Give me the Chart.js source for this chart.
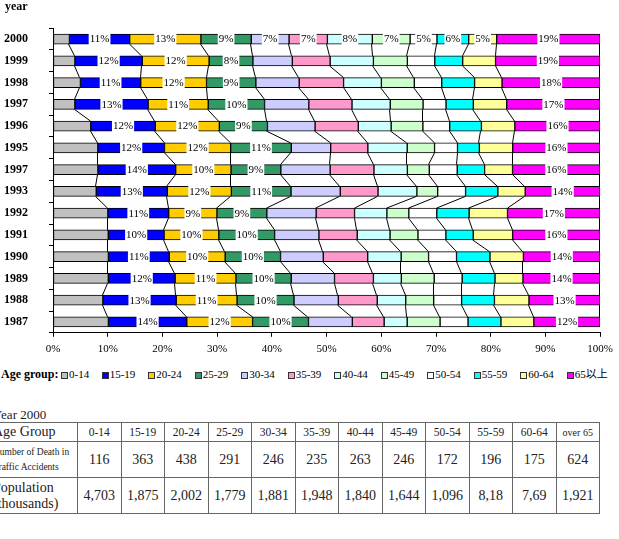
<!DOCTYPE html>
<html>
<head>
<meta charset="utf-8">
<script src="https://cdn.jsdelivr.net/npm/chart.js@4.4.1/dist/chart.umd.min.js"></script>
<style>
html,body{margin:0;padding:0;background:#fff;}
body{width:619px;height:539px;position:relative;overflow:hidden;font-family:"Liberation Serif","Times New Roman",serif;color:#000;}
#wrap{position:absolute;left:0;top:0;width:619px;height:361px;}
#yearTitle{position:absolute;left:5px;top:0px;font-weight:bold;font-size:12px;line-height:13px;}
#legend{position:absolute;left:0;top:366px;width:619px;height:16px;}
#legend .ttl{position:absolute;left:1px;top:0;font-weight:bold;font-size:12px;line-height:16px;white-space:nowrap;}
#legend .mk{position:absolute;top:6px;width:5px;height:5px;border:1px solid #333;}
#legend .lb{position:absolute;top:0;font-size:11px;line-height:16px;white-space:nowrap;font-family:"Liberation Serif","Noto Sans CJK JP",serif;}
#tblTitle{position:absolute;left:-7px;top:407px;font-size:13px;line-height:15px;color:#222;}
#tbl{position:absolute;left:-11px;top:422px;border-collapse:collapse;table-layout:fixed;}
#tbl td{border:1px solid #666;text-align:center;padding:0;font-size:14px;color:#222;overflow:hidden;white-space:nowrap;}
#tbl tr.h td{height:18px;font-size:11.5px;}
#tbl tr.d td{height:35px;}
#tbl td.first{text-align:left;padding-left:3px;}
#tbl td.small{font-size:9.5px;line-height:15px;white-space:normal;}
#tbl td.big{font-size:14px;line-height:16px;white-space:normal;}
</style>
</head>
<body>
<div id="wrap"><canvas id="c" width="619" height="361"></canvas></div>
<div id="yearTitle">year</div>
<div id="legend"></div>
<div id="tblTitle">Year 2000</div>
<table id="tbl"></table>
<script>
// ---------- DATA ----------
const years = ['2000','1999','1998','1997','1996','1995','1997','1993','1992','1991','1990','1989','1988','1987'];
const ageGroups = ['0-14','15-19','20-24','25-29','30-34','35-39','40-44','45-49','50-54','55-59','60-64','65以上'];
const tickValues = [0,10,20,30,40,50,60,70,80,90,100];

const age0_14  = [3, 4, 5, 4, 6.9, 8.2, 8.2, 7.9, 10, 10.1, 10.1, 10.1, 9.1, 10.1];
const age15_19 = [11, 12.3, 11, 13.4, 11.8, 12.2, 14.2, 13, 11.1, 10.2, 11.1, 12.2, 13.4, 14.3];
const age20_24 = [13, 12.2, 12, 11, 11.7, 12.1, 10.1, 11.7, 8.8, 10, 10.2, 11.1, 11.1, 12];
const age25_29 = [9.2, 8, 9, 10.3, 8.8, 11.1, 9.1, 10.9, 9.1, 10.2, 10.1, 10.1, 10.4, 10.2];
const age30_34 = [6.9, 7.2, 7.9, 8.1, 8.7, 7.2, 9, 9, 9, 8.1, 7.8, 7.9, 8.1, 8];
const age35_39 = [7, 6.9, 8.1, 7.9, 7.9, 6.8, 8, 6.9, 7, 7, 8.1, 7.1, 7.1, 5.8];
const age40_44 = [8.2, 7.9, 6.9, 7, 6, 7.2, 6.1, 7.1, 5.9, 6, 6.1, 5.1, 5.2, 4.2];
const age45_49 = [6.9, 6.2, 6, 6, 5.8, 5, 4, 3.8, 4, 5.1, 5, 6, 5.1, 6];
const age50_54 = [4.9, 5, 5, 4.2, 4.9, 4.2, 5.1, 5.1, 5.1, 5.1, 5.1, 5.1, 5.1, 5.1];
const age55_59 = [5.8, 5.1, 6, 5, 5.8, 4, 5, 5.9, 5.9, 5, 6.1, 6, 6, 6];
const age60_64 = [5.1, 6, 5, 6.1, 6.1, 6.1, 5.1, 5, 7, 7.2, 6.1, 5.1, 6.3, 6];
const age65up  = [18.9, 19.1, 17.9, 17.1, 15.6, 16, 16, 13.7, 16.9, 16, 14, 14.1, 13, 12.1];

const tableGroups = ['0-14','15-19','20-24','25-29','30-34','35-39','40-44','45-49','50-54','55-59','60-64','over 65'];
const deaths2000 = ['116','363','438','291','246','235','263','246','172','196','175','624'];
const population2000 = ['4,703','1,875','2,002','1,779','1,881','1,948','1,840','1,644','1,096','8,18','7,69','1,921'];

// ---------- STYLE ----------
const colors = ['#C0C0C0','#0000FF','#FFCC00','#339966','#CCCCFF','#FF99CC','#CCFFFF','#CCFFCC','#FFFFFF','#00FFFF','#FFFF99','#FF00FF'];
const labeledGroups = [1,2,3,11];   // groups labelled in every year
const fullyLabeledRow = 0;          // year row where every group except 0-14 is labelled

const series = [age0_14,age15_19,age20_24,age25_29,age30_34,age35_39,age40_44,age45_49,age50_54,age55_59,age60_64,age65up];
const rowTotals = years.map((_,i)=>series.reduce((s,a)=>s+a[i],0));
const pct = series.map(a=>a.map((v,i)=>v/rowTotals[i]*100));

const FONT = '"Liberation Serif","Times New Roman",serif';
Chart.defaults.font.family = FONT;
Chart.defaults.color = '#000';

const connectorPlugin = {
  id:'connectors',
  afterDatasetsDraw(chart){
    const ctx = chart.ctx;
    ctx.save();
    ctx.strokeStyle = '#000';
    ctx.lineWidth = 1;
    chart.data.datasets.forEach((ds,di)=>{
      const meta = chart.getDatasetMeta(di);
      for(let i=0;i<meta.data.length-1;i++){
        const a = meta.data[i], b = meta.data[i+1];
        ctx.beginPath();
        ctx.moveTo(Math.round(a.x)-0.5, a.y + a.height/2);
        ctx.lineTo(Math.round(b.x)-0.5, b.y - b.height/2);
        ctx.stroke();
      }
    });
    ctx.restore();
  }
};

const labelPlugin = {
  id:'segLabels',
  afterDatasetsDraw(chart){
    const ctx = chart.ctx;
    ctx.save();
    ctx.font = '11px ' + FONT;
    ctx.textAlign = 'center';
    ctx.textBaseline = 'middle';
    chart.data.datasets.forEach((ds,di)=>{
      if(di===0) return;
      const meta = chart.getDatasetMeta(di);
      meta.data.forEach((el,i)=>{
        if(!(labeledGroups.includes(di) || i===fullyLabeledRow)) return;
        const txt = Math.round(ds.data[i]) + '%';
        const cx = (el.x + el.base)/2;
        const w = ctx.measureText(txt).width;
        ctx.fillStyle = '#fff';
        ctx.fillRect(cx - w/2 - 1, el.y - el.height/2 - 1, w + 2, el.height + 2);
        ctx.fillStyle = '#000';
        ctx.fillText(txt, cx, el.y + 0.5);
      });
    });
    ctx.restore();
  }
};

new Chart(document.getElementById('c'), {
  type:'bar',
  data:{
    labels: years,
    datasets: ageGroups.map((g,k)=>({
      label: g,
      data: pct[k],
      backgroundColor: colors[k],
      borderColor: '#000',
      borderWidth: 1,
      borderSkipped: false,
      barThickness: 10
    }))
  },
  options:{
    indexAxis:'y',
    responsive:false,
    animation:false,
    layout:{padding:{top:14,right:12,bottom:0,left:0}},
    plugins:{legend:{display:false},tooltip:{enabled:false}},
    scales:{
      x:{
        stacked:true, min:0, max:100,
        afterBuildTicks:(s)=>{ s.ticks = tickValues.map(v=>({value:v})); },
        afterFit:(s)=>{ s.height = 28; },
        grid:{drawOnChartArea:false, drawTicks:true, tickLength:4, color:'#000'},
        border:{display:true, color:'#000', width:1},
        ticks:{callback:(v)=>v+'%', font:{size:11}, padding:6, maxRotation:0, color:'#000'}
      },
      y:{
        stacked:true,
        afterFit:(s)=>{ s.width = 53; },
        grid:{drawOnChartArea:false, drawTicks:true, tickLength:4, color:'#000'},
        border:{display:true, color:'#000', width:1},
        ticks:{font:{size:12, weight:'bold'}, padding:21, color:'#000'}
      }
    }
  },
  plugins:[connectorPlugin, labelPlugin]
});

// ---------- LEGEND ----------
const lg = document.getElementById('legend');
const ttl = document.createElement('div'); ttl.className='ttl'; ttl.textContent='Age group:'; lg.appendChild(ttl);
ageGroups.forEach((g,k)=>{
  const left = k===0 ? 61 : 101.7 + (k-1)*46.5;
  const mk = document.createElement('div'); mk.className='mk';
  mk.style.left = left+'px'; mk.style.background = colors[k];
  const lb = document.createElement('div'); lb.className='lb';
  lb.style.left = (left+8)+'px'; lb.textContent = g;
  lg.appendChild(mk); lg.appendChild(lb);
});

// ---------- TABLE ----------
const tbl = document.getElementById('tbl');
const cg = document.createElement('colgroup');
const c0 = document.createElement('col'); c0.style.width='88px'; cg.appendChild(c0);
tableGroups.forEach(()=>{ const c=document.createElement('col'); c.style.width='43.5px'; cg.appendChild(c); });
tbl.appendChild(cg);
function addRow(cls, firstHtml, firstCls, vals, valCls){
  const tr = document.createElement('tr'); tr.className = cls;
  const td0 = document.createElement('td'); td0.className = 'first ' + (firstCls||''); td0.innerHTML = firstHtml; tr.appendChild(td0);
  vals.forEach((v,i)=>{ const td=document.createElement('td'); td.textContent=v;
    if(valCls) td.style.fontSize = valCls(v,i);
    tr.appendChild(td); });
  tbl.appendChild(tr);
}
addRow('h','<span style="font-size:14px">Age Group</span>','',tableGroups,(v)=>v==='over 65'?'10px':'11.5px');
addRow('d','Number of Death in<br>Traffic Accidents','small',deaths2000,null);
addRow('d','Population<br>(thousands)','big',population2000,null);
</script>
</body>
</html>
